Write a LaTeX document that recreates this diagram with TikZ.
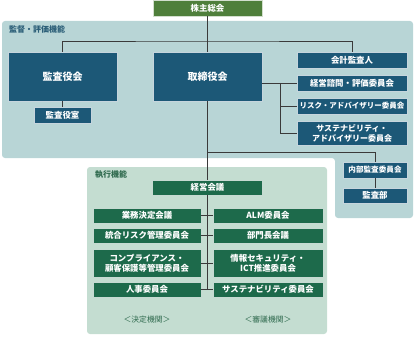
\documentclass[tikz,border=0pt]{standalone}
\usepackage{fontspec}
\newfontfamily\jp{Noto Sans CJK JP}
\definecolor{panelblue}{HTML}{B8D5D6}
\definecolor{panelgreen}{HTML}{C4DDD1}
\definecolor{boxblue}{HTML}{1C5877}
\definecolor{boxgreen}{HTML}{1D6A4B}
\definecolor{topgreen}{HTML}{4F7F3B}
\definecolor{linegray}{HTML}{3A3A3A}
\definecolor{labblue}{HTML}{2C5F78}
\definecolor{labgreen}{HTML}{2F6A4E}
\begin{document}
\begin{tikzpicture}[x=1pt,y=-1pt,
  bx/.style={draw=white!75!boxblue, line width=0.6pt, text=white, inner sep=0pt, align=center, font=\jp\bfseries\fontsize{8.4}{10}\selectfont},
  bb/.style={bx, fill=boxblue},
  gb/.style={bx, fill=boxgreen, draw=white!75!boxgreen},
  conn/.style={draw=linegray, line width=0.8pt},
  lab/.style={font=\jp\bfseries\fontsize{8}{9}\selectfont, inner sep=0pt, anchor=west},
  sublab/.style={font=\jp\fontsize{7.8}{9}\selectfont, text=labgreen, inner sep=0pt}
]
\useasboundingbox (0,0) rectangle (415,337);
% panels
\fill[panelblue, rounded corners=3pt] (2,21) -- (413,21) -- (413,218) -- (335,218) -- (335,158) -- (2,158) -- cycle;
\fill[panelgreen, rounded corners=3pt] (87,167) rectangle (327,334);
\node[lab, text=labblue] (l1) at (9,29) {監督・評価機能};
\node[lab, text=labgreen] (l2) at (95,175) {執行機能};

% nodes
\node[bx, fill=topgreen, draw=white!75!topgreen, minimum width=109pt, minimum height=16pt] (shareholders) at (207.5,8) {株主総会};
\node[bb, minimum width=109pt, minimum height=49pt, font=\jp\bfseries\fontsize{10}{11}\selectfont] (kansayakukai) at (62.5,76.5) {監査役会};
\node[bb, minimum width=57pt, minimum height=16pt] (kansayakushitsu) at (62.5,115) {監査役室};
\node[bb, minimum width=109pt, minimum height=49pt, font=\jp\bfseries\fontsize{10}{11}\selectfont] (board) at (207.5,76.5) {取締役会};
\node[bb, minimum width=110pt, minimum height=16pt] (auditor) at (352,60) {会計監査人};
\node[bb, minimum width=110pt, minimum height=16pt] (advisory) at (352,83) {経営諮問・評価委員会};
\node[bb, minimum width=110pt, minimum height=16pt, font=\jp\bfseries\fontsize{7.5}{9}\selectfont] (risk) at (352,106) {リスク・アドバイザリー委員会};
\node[bb, minimum width=110pt, minimum height=24pt, font=\jp\bfseries\fontsize{8}{10}\selectfont] (sustain) at (352,133) {サステナビリティ・\\アドバイザリー委員会};
\node[bb, minimum width=64pt, minimum height=16pt, font=\jp\bfseries\fontsize{7.6}{9}\selectfont] (internal) at (375,170) {内部監査委員会};
\node[bb, minimum width=64pt, minimum height=15pt] (auditdept) at (375,195.5) {監査部};

\node[gb, minimum width=110pt, minimum height=15pt] (mgmt) at (207.5,187.5) {経営会議};
\node[gb, minimum width=108pt, minimum height=15pt] (l1b) at (147,215.5) {業務決定会議};
\node[gb, minimum width=108pt, minimum height=15pt] (l2b) at (147,235.5) {統合リスク管理委員会};
\node[gb, minimum width=108pt, minimum height=28pt] (l3b) at (147,263) {コンプライアンス・\\顧客保護等管理委員会};
\node[gb, minimum width=108pt, minimum height=15pt] (l4b) at (147,289.5) {人事委員会};
\node[gb, minimum width=110pt, minimum height=15pt] (r1b) at (268,215.5) {ALM委員会};
\node[gb, minimum width=110pt, minimum height=15pt] (r2b) at (268,235.5) {部門長会議};
\node[gb, minimum width=110pt, minimum height=28pt] (r3b) at (268,263) {情報セキュリティ・\\ICT推進委員会};
\node[gb, minimum width=110pt, minimum height=15pt] (r4b) at (268,289.5) {サステナビリティ委員会};
\node[sublab] (dec) at (147,320) {＜決定機関＞};
\node[sublab] (del) at (268,320) {＜審議機関＞};

% connectors
\coordinate (top) at (207.5,41);
\draw[conn] (shareholders.south) -- (board.north);
\draw[conn] (kansayakukai.north) |- (top) -| (auditor.north);
\draw[conn] (kansayakukai.south) -- (kansayakushitsu.north);
\draw[conn] (board.south) -- (mgmt.north);
\coordinate (ia) at (207.5,152);
\draw[conn] (ia) -| (internal.north);
\draw[conn] (internal.south) -- (auditdept.north);
\coordinate (sp) at (280,83);
\draw[conn] (board.east |- advisory.west) -- (advisory.west);
\draw[conn] (sp) |- (sustain.west);
\draw[conn] (sp |- risk.west) -- (risk.west);
\coordinate (ms) at (207.5,289.5);
\draw[conn] (mgmt.south) -- (ms);
\draw[conn] (l1b.east) -- (r1b.west);
\draw[conn] (l2b.east) -- (r2b.west);
\draw[conn] (l3b.east) -- (r3b.west);
\draw[conn] (l4b.east) -- (r4b.west);
\end{tikzpicture}
\end{document}
